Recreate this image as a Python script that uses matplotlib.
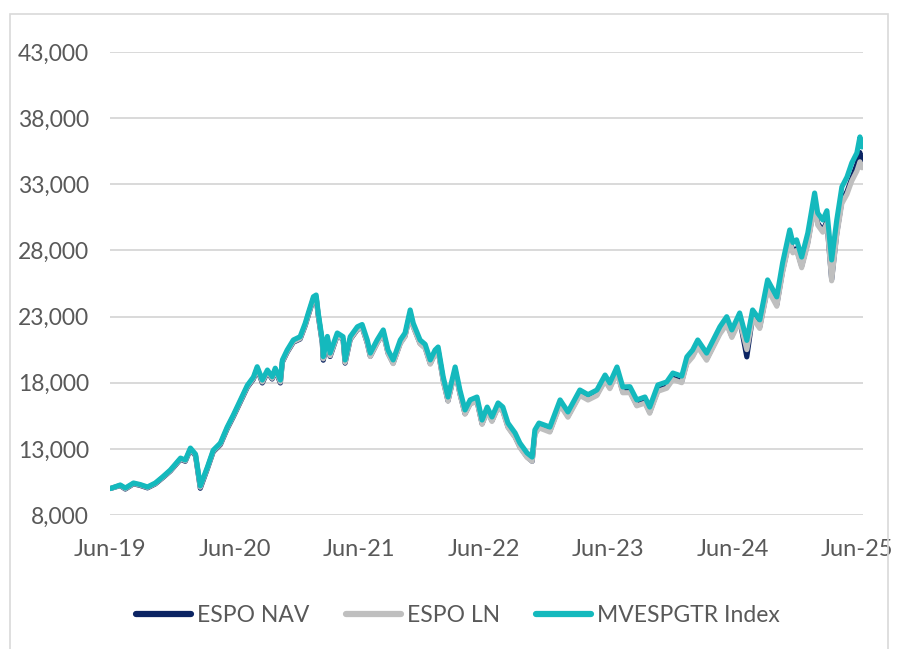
import matplotlib
matplotlib.use("Agg")
import matplotlib.pyplot as plt
from matplotlib.ticker import FuncFormatter, FixedLocator
from matplotlib.patches import Rectangle
import pandas as pd

plt.rcParams['font.family'] = ['Lato', 'DejaVu Sans']

dates = [
    "2019-06-02", "2019-07-01", "2019-07-16", "2019-08-09", "2019-08-29", "2019-09-19",
    "2019-10-12", "2019-11-02", "2019-11-25", "2019-12-25", "2020-01-08", "2020-01-23",
    "2020-02-07", "2020-02-21", "2020-03-13", "2020-03-30", "2020-04-20", "2020-05-10",
    "2020-05-28", "2020-06-18", "2020-07-08", "2020-07-26", "2020-08-06", "2020-08-21",
    "2020-09-05", "2020-09-19", "2020-09-28", "2020-10-13", "2020-10-19", "2020-11-02",
    "2020-11-20", "2020-12-10", "2020-12-25", "2021-01-03", "2021-01-18", "2021-01-26",
    "2021-02-01", "2021-02-13", "2021-02-16", "2021-02-28", "2021-03-08", "2021-03-29",
    "2021-04-15", "2021-04-21", "2021-05-06", "2021-05-27", "2021-06-10", "2021-06-25",
    "2021-07-04", "2021-07-24", "2021-08-11", "2021-08-25", "2021-09-09", "2021-09-30",
    "2021-10-14", "2021-10-29", "2021-11-07", "2021-11-27", "2021-12-12", "2021-12-27",
    "2022-01-10", "2022-01-19", "2022-02-03", "2022-02-17", "2022-03-10", "2022-03-24",
    "2022-04-08", "2022-04-23", "2022-05-13", "2022-05-28", "2022-06-12", "2022-06-26",
    "2022-07-14", "2022-07-28", "2022-08-12", "2022-09-02", "2022-09-16", "2022-10-07",
    "2022-10-22", "2022-10-30", "2022-11-11", "2022-12-13", "2023-01-12", "2023-02-04",
    "2023-03-11", "2023-04-04", "2023-04-30", "2023-05-24", "2023-06-07", "2023-06-28",
    "2023-07-15", "2023-08-05", "2023-08-25", "2023-09-18", "2023-10-02", "2023-10-26",
    "2023-11-21", "2023-12-09", "2024-01-04", "2024-01-19", "2024-02-05", "2024-02-20",
    "2024-03-17", "2024-04-25", "2024-05-15", "2024-05-30", "2024-06-22", "2024-07-13",
    "2024-07-30", "2024-08-20", "2024-09-12", "2024-10-09", "2024-10-26", "2024-11-16",
    "2024-11-25", "2024-12-06", "2024-12-21", "2025-01-08", "2025-01-28", "2025-02-06",
    "2025-02-21", "2025-03-05", "2025-03-19", "2025-04-03", "2025-04-18", "2025-05-03",
    "2025-05-17", "2025-06-01", "2025-06-10", "2025-06-16",
]

mvespgtr_index = [
    10000, 10270, 10040, 10420, 10300, 10120,
    10420, 10870, 11400, 12300, 12160, 13060,
    12600, 10200, 11630, 12900, 13440, 14650,
    15560, 16700, 17800, 18430, 19210, 18200,
    18960, 18450, 19100, 18200, 19720, 20470,
    21230, 21480, 22500, 23270, 24500, 24630,
    23300, 21230, 19970, 21500, 20240, 21760,
    21480, 19720, 21480, 22230, 22400, 21230,
    20240, 21230, 21990, 20470, 19720, 21230,
    21760, 23500, 22500, 21230, 20900, 19720,
    20470, 20700, 18430, 16920, 19190, 17450,
    15940, 16700, 16920, 15180, 16160, 15410,
    16470, 16160, 14950, 14200, 13440, 12690,
    12380, 14430, 14950, 14650, 16700, 15790,
    17450, 17100, 17450, 18580, 17980, 19190,
    17680, 17700, 16700, 16920, 16160, 17830,
    18060, 18730, 18500, 19950, 20470, 21230,
    20240, 22230, 22990, 21990, 23270, 21200,
    23500, 22750, 25770, 24490, 27060, 29550,
    28600, 28800, 27500, 29320, 32340, 30830,
    30300, 31000, 27280, 30300, 32800, 33550,
    34610, 35370, 36580, 35820,
]

espo_nav = [
    10000, 10220, 9960, 10360, 10230, 10050,
    10350, 10800, 11320, 12210, 12060, 12960,
    12480, 10020, 11510, 12780, 13320, 14520,
    15430, 16560, 17650, 18280, 19050, 17980,
    18800, 18280, 18940, 17980, 19560, 20300,
    21060, 21300, 22320, 23090, 24320, 24450,
    23100, 21000, 19700, 21300, 19980, 21560,
    21280, 19480, 21270, 22020, 22190, 21000,
    20000, 21010, 21770, 20240, 19480, 21000,
    21530, 23270, 22260, 20980, 20650, 19450,
    20220, 20450, 18160, 16630, 18930, 17180,
    15660, 16430, 16650, 14900, 15890, 15130,
    16200, 15890, 14680, 13920, 13160, 12400,
    12060, 14150, 14670, 14350, 16400, 15480,
    17130, 16780, 17120, 18250, 17640, 18850,
    17330, 17350, 16330, 16560, 15780, 17460,
    17680, 18350, 18110, 19550, 20060, 20810,
    19800, 21780, 22530, 21520, 22790, 19950,
    22980, 22220, 25200, 23900, 26450, 28900,
    27950, 28130, 26820, 28620, 31600, 30060,
    29500, 30180, 25800, 29300, 31750, 32450,
    33450, 34500, 35400, 34450,
]

espo_ln = [
    10000, 10240, 9990, 10380, 10260, 10080,
    10380, 10830, 11350, 12250, 12100, 13000,
    12530, 10100, 11560, 12830, 13370, 14570,
    15480, 16610, 17700, 18330, 19100, 18050,
    18850, 18330, 18990, 18050, 19600, 20340,
    21100, 21340, 22360, 23130, 24360, 24480,
    23140, 21060, 19800, 21330, 20040, 21580,
    21300, 19530, 21290, 22040, 22200, 21000,
    19980, 20990, 21750, 20200, 19440, 20960,
    21490, 23230, 22220, 20940, 20600, 19400,
    20170, 20400, 18110, 16600, 18880, 17130,
    15620, 16380, 16600, 14850, 15830, 15070,
    16130, 15820, 14610, 13860, 13100, 12350,
    12050, 14080, 14590, 14270, 16310, 15390,
    17040, 16690, 17030, 18150, 17550, 18750,
    17240, 17250, 16250, 16460, 15690, 17350,
    17580, 18240, 18000, 19440, 19950, 20700,
    19700, 21680, 22420, 21420, 22680, 20500,
    22870, 22100, 25080, 23780, 26320, 28770,
    27820, 28000, 26690, 28480, 31450, 29920,
    29380, 30050, 25700, 29150, 31550, 32250,
    33250, 34000, 34700, 34250,
]

series_names = ["ESPO NAV", "ESPO LN", "MVESPGTR Index"]
x_tick_labels = ["Jun-19", "Jun-20", "Jun-21", "Jun-22", "Jun-23", "Jun-24", "Jun-25"]
y_ticks = [8000, 13000, 18000, 23000, 28000, 33000, 38000, 43000]

x = pd.to_datetime(dates)

W, H = 897, 649
fig = plt.figure(figsize=(W / 100, H / 100), dpi=100)

# outer light frame
fig.patches.append(Rectangle((10 / W, -0.01), 878 / W, 1 - 14 / H + 0.01,
                             transform=fig.transFigure, fill=False,
                             edgecolor="#d9d9d9", linewidth=1.2))

ax = fig.add_axes([110 / W, 1 - 515 / H, (863 - 110) / W, (515 - 52) / H])

ax.plot(x, espo_nav, color="#0b2463", lw=3.7, solid_joinstyle="round",
        solid_capstyle="round", label=series_names[0], zorder=3)
ax.plot(x, espo_ln, color="#bfbfbf", lw=3.7, solid_joinstyle="round",
        solid_capstyle="round", label=series_names[1], zorder=4)
ax.plot(x, mvespgtr_index, color="#14b9bd", lw=3.7, solid_joinstyle="round",
        solid_capstyle="round", label=series_names[2], zorder=5)

ax.set_ylim(8000, 43000)
ax.set_xlim(pd.Timestamp("2019-06-01"), pd.Timestamp("2025-06-19"))
ax.yaxis.set_major_locator(FixedLocator(y_ticks))
ax.yaxis.set_major_formatter(FuncFormatter(lambda v, p: f"{int(v):,}"))

xt = [pd.Timestamp(f"20{lbl[-2:]}-06-01") for lbl in x_tick_labels]
ax.set_xticks(xt)
ax.set_xticklabels(x_tick_labels)

ax.grid(axis="y", color="#d9d9d9", lw=1.4, zorder=0)
ax.set_axisbelow(True)
for s in ax.spines.values():
    s.set_visible(False)
ax.tick_params(axis="both", length=0, colors="#595959")
ax.tick_params(axis="y", pad=15, labelsize=16.5)
ax.tick_params(axis="x", pad=17, labelsize=17)

leg = fig.legend(loc="center", bbox_to_anchor=(458 / W, 1 - 616 / H), ncol=3,
                 frameon=False, fontsize=16.5, handlelength=2.4, handletextpad=0.25,
                 columnspacing=1.6)
for t in leg.get_texts():
    t.set_color("#595959")
for h in leg.get_lines():
    h.set_linewidth(4.5)
    h.set_solid_capstyle("round")

fig.savefig("out.png", dpi=100)
